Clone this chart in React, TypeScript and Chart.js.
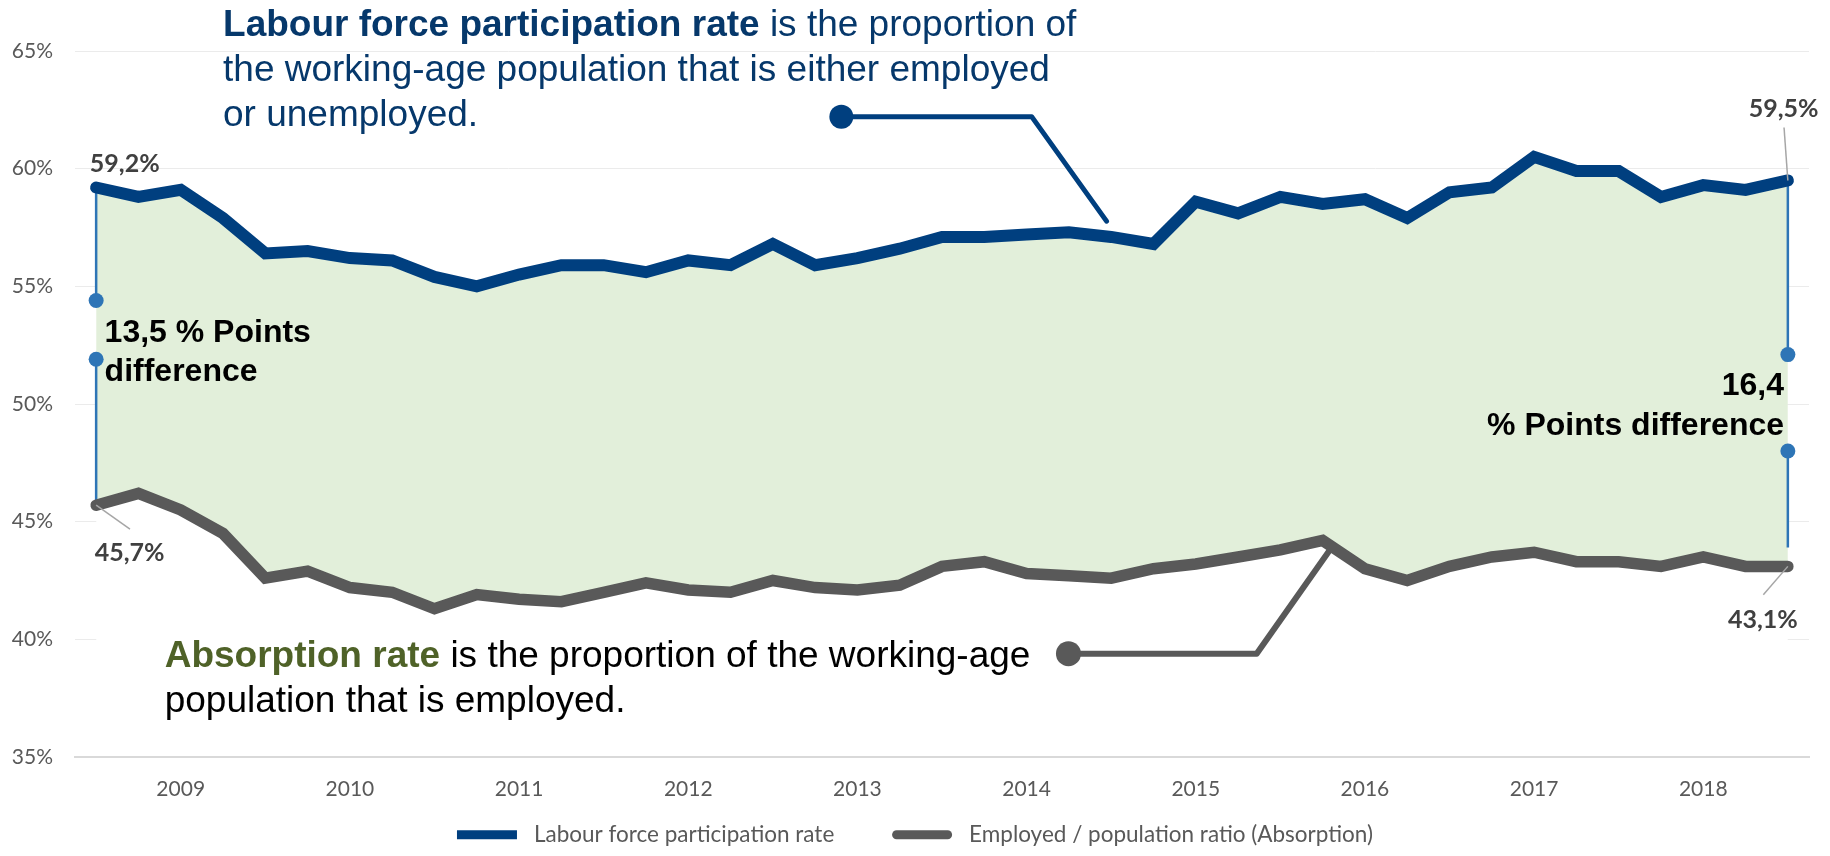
import { useEffect, useRef } from 'react';
import { Chart, registerables } from 'chart.js';

Chart.register(...registerables);

// ---------- data ----------
const QUARTERS = [
  '2008Q3', '2008Q4',
  '2009Q1', '2009Q2', '2009Q3', '2009Q4',
  '2010Q1', '2010Q2', '2010Q3', '2010Q4',
  '2011Q1', '2011Q2', '2011Q3', '2011Q4',
  '2012Q1', '2012Q2', '2012Q3', '2012Q4',
  '2013Q1', '2013Q2', '2013Q3', '2013Q4',
  '2014Q1', '2014Q2', '2014Q3', '2014Q4',
  '2015Q1', '2015Q2', '2015Q3', '2015Q4',
  '2016Q1', '2016Q2', '2016Q3', '2016Q4',
  '2017Q1', '2017Q2', '2017Q3', '2017Q4',
  '2018Q1', '2018Q2', '2018Q3',
];

const LFPR = [
  59.2, 58.8, 59.1, 57.9, 56.4, 56.5, 56.2, 56.1, 55.4, 55.0,
  55.5, 55.9, 55.9, 55.6, 56.1, 55.9, 56.8, 55.9, 56.2, 56.6,
  57.1, 57.1, 57.2, 57.3, 57.1, 56.8, 58.6, 58.1, 58.8, 58.5,
  58.7, 57.9, 59.0, 59.2, 60.5, 59.9, 59.9, 58.8, 59.3, 59.1,
  59.5,
];

const ABSORPTION = [
  45.7, 46.2, 45.5, 44.5, 42.6, 42.9, 42.2, 42.0, 41.3, 41.9,
  41.7, 41.6, 42.0, 42.4, 42.1, 42.0, 42.5, 42.2, 42.1, 42.3,
  43.1, 43.3, 42.8, 42.7, 42.6, 43.0, 43.2, 43.5, 43.8, 44.2,
  43.0, 42.5, 43.1, 43.5, 43.7, 43.3, 43.3, 43.1, 43.5, 43.1,
  43.1,
];

const SERIES_NAMES = ['Labour force participation rate', 'Employed / population ratio (Absorption)'];

const Y_TICKS = [35, 40, 45, 50, 55, 60, 65];

// difference markers (y positions of the two dots on each vertical bar)
const GAP_START_DOTS = [54.4, 51.9];
const GAP_END_DOTS = [52.1, 48.0];
const GAP_END_BOTTOM = 43.9;

// callout connectors, in chart coordinates (x = quarter index, y = %)
const LFPR_CALLOUT = [
  { x: 17.62, y: 62.21 },
  { x: 22.12, y: 62.21 },
  { x: 23.89, y: 57.77 },
];
const ABS_CALLOUT = [
  { x: 22.99, y: 39.39 },
  { x: 27.44, y: 39.39 },
  { x: 29.22, y: 43.92 },
];

// texts
const LFPR_NOTE = [
  [{ text: 'Labour force participation rate', bold: true }, { text: ' is the proportion of', bold: false }],
  [{ text: 'the working-age population that is either employed', bold: false }],
  [{ text: 'or unemployed.', bold: false }],
];
const ABS_NOTE = [
  [{ text: 'Absorption rate', bold: true }, { text: ' is the proportion of the working-age', bold: false }],
  [{ text: 'population that is employed.', bold: false }],
];
const GAP_START_NOTE = ['13,5 % Points', 'difference'];
const GAP_END_NOTE = ['16,4', '% Points difference'];

const fmt = (v: number) => v.toFixed(1).replace('.', ',') + '%';

// ---------- colours ----------
const NAVY = '#003F7F';
const NAVY_TEXT = '#06386B';
const GREY = '#595959';
const OLIVE = '#4F6228';
const GAP_BLUE = '#2E75B6';
const FILL_GREEN = '#E2EFDA';

const ARIAL = '"Liberation Sans", Arial, sans-serif';
const CAL = 'Lato, "Open Sans", sans-serif';

const pts = (arr: number[]) => arr.map((v, i) => ({ x: i, y: v }));

const annotationsPlugin = {
  id: 'annotationsPlugin',
  afterDatasetsDraw(chart: any) {
    const { ctx } = chart;
    const xs = chart.scales.x;
    const ys = chart.scales.y;
    const px = (x: number) => xs.getPixelForValue(x);
    const py = (y: number) => ys.getPixelForValue(y);
    const last = LFPR.length - 1;
    ctx.save();

    // leader lines for value labels
    ctx.strokeStyle = '#A6A6A6';
    ctx.lineWidth = 1.5;
    const leader = (x1: number, y1: number, x2: number, y2: number) => {
      ctx.beginPath();
      ctx.moveTo(px(x1), py(y1));
      ctx.lineTo(px(x2), py(y2));
      ctx.stroke();
    };
    leader(0, ABSORPTION[0], 0.8, 44.68);
    leader(last, LFPR[last], 39.91, 61.75);
    leader(last, ABSORPTION[last], 39.42, 41.89);

    // value labels
    ctx.font = `bold 25px ${CAL}`;
    ctx.fillStyle = '#404040';
    ctx.textAlign = 'center';
    ctx.textBaseline = 'middle';
    ctx.fillText(fmt(LFPR[0]), px(0.675), py(60.22));
    ctx.fillText(fmt(ABSORPTION[0]), px(0.79), py(43.66));
    ctx.fillText(fmt(LFPR[last]), px(39.9), py(62.53));
    ctx.fillText(fmt(ABSORPTION[last]), px(39.41), py(40.82));

    // rich multi-line notes
    ctx.textBaseline = 'alphabetic';
    ctx.textAlign = 'left';
    const rich = (lines: any[], x: number, y: number, size: number, lh: number, colors: string[]) => {
      lines.forEach((parts: any[], li: number) => {
        let cx = x;
        parts.forEach((p: any, pi: number) => {
          ctx.font = `${p.bold ? 'bold ' : ''}${size}px ${ARIAL}`;
          ctx.fillStyle = li === 0 && pi === 0 ? colors[0] : colors[1];
          ctx.fillText(p.text, cx, y + li * lh);
          cx += ctx.measureText(p.text).width;
        });
      });
    };
    rich(LFPR_NOTE, px(3.0), py(65.634), 37, 45, [NAVY_TEXT, NAVY_TEXT]);
    rich(ABS_NOTE, px(1.62), py(38.845), 37, 45, [OLIVE, '#000000']);

    // difference notes
    ctx.font = `bold 32px ${ARIAL}`;
    ctx.fillStyle = '#000000';
    ctx.textAlign = 'left';
    GAP_START_NOTE.forEach((t, i) => ctx.fillText(t, px(0.2), py(52.62) + i * 39));
    ctx.textAlign = 'right';
    GAP_END_NOTE.forEach((t, i) => ctx.fillText(t, px(39.91), py(50.38) + i * 40));

    ctx.restore();
  },
};

export default function App() {
  const ref = useRef<HTMLCanvasElement>(null);

  useEffect(() => {
    const last = LFPR.length - 1;
    const gapStyle = {
      borderColor: GAP_BLUE,
      backgroundColor: GAP_BLUE,
      pointBackgroundColor: GAP_BLUE,
      pointBorderWidth: 0,
      borderWidth: 2.5,
      fill: false,
      order: 2,
    };
    const chart = new Chart(ref.current as HTMLCanvasElement, {
      type: 'line',
      data: {
        datasets: [
          {
            label: SERIES_NAMES[0],
            data: pts(LFPR),
            borderColor: NAVY,
            backgroundColor: FILL_GREEN,
            borderWidth: 12,
            borderJoinStyle: 'miter',
            borderCapStyle: 'round',
            pointRadius: 0,
            fill: '+1',
            order: 0,
          },
          {
            label: SERIES_NAMES[1],
            data: pts(ABSORPTION),
            borderColor: GREY,
            backgroundColor: '#FFFFFF',
            borderWidth: 11.5,
            borderJoinStyle: 'miter',
            borderCapStyle: 'round',
            pointRadius: 0,
            fill: { value: 35.1 },
            order: 1,
          },
          {
            ...gapStyle,
            data: [{ x: 0, y: LFPR[0] }, { x: 0, y: GAP_START_DOTS[0] }],
            pointRadius: [0, 7.5],
          },
          {
            ...gapStyle,
            data: [{ x: 0, y: GAP_START_DOTS[1] }, { x: 0, y: ABSORPTION[0] }],
            pointRadius: [7.5, 0],
          },
          {
            ...gapStyle,
            data: [{ x: last, y: LFPR[last] }, { x: last, y: GAP_END_DOTS[0] }],
            pointRadius: [0, 7.5],
          },
          {
            ...gapStyle,
            data: [{ x: last, y: GAP_END_DOTS[1] }, { x: last, y: GAP_END_BOTTOM }],
            pointRadius: [7.5, 0],
          },
          {
            data: LFPR_CALLOUT,
            borderColor: NAVY,
            backgroundColor: NAVY,
            pointBackgroundColor: NAVY,
            pointBorderWidth: 0,
            borderWidth: 5,
            borderCapStyle: 'round',
            borderJoinStyle: 'round',
            pointRadius: [12, 0, 0],
            fill: false,
            order: 3,
          },
          {
            data: ABS_CALLOUT,
            borderColor: GREY,
            backgroundColor: GREY,
            pointBackgroundColor: GREY,
            pointBorderWidth: 0,
            borderWidth: 6,
            borderCapStyle: 'round',
            borderJoinStyle: 'round',
            pointRadius: [12.5, 0, 0],
            fill: false,
            order: 3,
          },
        ] as any,
      },
      options: {
        responsive: false,
        animation: false,
        events: [],
        layout: { padding: { left: 0, right: 0, top: 51, bottom: 0 } },
        scales: {
          x: {
            type: 'linear',
            min: -0.5,
            max: LFPR.length - 0.5,
            afterBuildTicks: (scale: any) => {
              scale.ticks = QUARTERS.map((q, i) => ({ q, i }))
                .filter((o) => o.q.endsWith('Q1'))
                .map((o) => ({ value: o.i }));
            },
            afterFit: (scale: any) => {
              scale.height = 60.5;
            },
            ticks: {
              autoSkip: false,
              maxRotation: 0,
              padding: 20,
              color: GREY,
              font: { family: CAL, size: 21 },
              callback: (v: any) => QUARTERS[Math.round(v)].slice(0, 4),
            },
            grid: { display: false, drawTicks: false },
            border: { display: true, color: '#D9D9D9', width: 2 },
          },
          y: {
            min: 35,
            max: 65,
            afterBuildTicks: (scale: any) => {
              scale.ticks = Y_TICKS.map((v) => ({ value: v }));
            },
            afterFit: (scale: any) => {
              scale.width = 75;
            },
            ticks: {
              padding: 22,
              color: GREY,
              font: { family: CAL, size: 21 },
              callback: (v: any) => v + '%',
            },
            grid: { color: '#EBEBEB', lineWidth: 1, drawTicks: false },
            border: { display: false },
          },
          yRight: {
            position: 'right',
            display: true,
            min: 0,
            max: 1,
            afterFit: (scale: any) => {
              scale.width = 21;
            },
            ticks: { display: false },
            grid: { display: false, drawTicks: false },
            border: { display: false },
          },
        },
        plugins: {
          filler: { drawTime: 'beforeDatasetsDraw' },
          tooltip: { enabled: false },
          legend: {
            position: 'bottom',
            labels: {
              boxWidth: 60,
              boxHeight: 9,
              padding: 6,
              useBorderRadius: true,
              color: GREY,
              font: { family: CAL, size: 22.5 },
              generateLabels: () => [
                {
                  text: ' ' + SERIES_NAMES[0] + '         ',
                  fillStyle: NAVY,
                  strokeStyle: NAVY,
                  lineWidth: 0,
                  borderRadius: 0,
                  fontColor: GREY,
                  hidden: false,
                  datasetIndex: 0,
                },
                {
                  text: ' ' + SERIES_NAMES[1],
                  fillStyle: GREY,
                  strokeStyle: GREY,
                  lineWidth: 0,
                  borderRadius: 4.5,
                  fontColor: GREY,
                  hidden: false,
                  datasetIndex: 1,
                },
              ],
            },
          },
        },
      } as any,
      plugins: [annotationsPlugin],
    });
    return () => chart.destroy();
  }, []);

  return (
    <canvas
      ref={ref}
      width={1830}
      height={856}
      style={{ position: 'absolute', left: 0, top: 0, width: 1830, height: 856, display: 'block' }}
    />
  );
}
